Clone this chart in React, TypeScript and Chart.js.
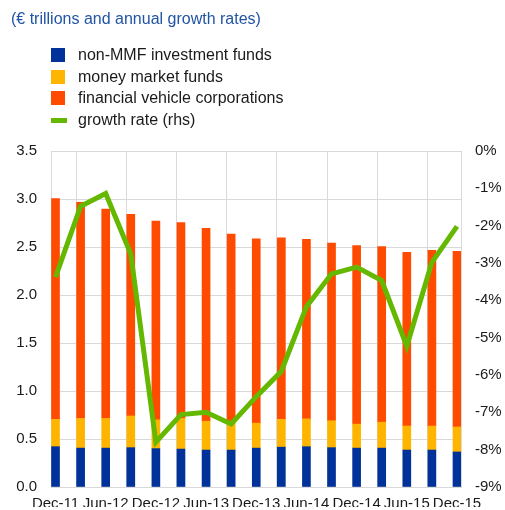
import React, { useEffect, useRef } from "react";
import { Chart, registerables } from "chart.js";
Chart.register(...registerables);

const categories = ["Dec-11","Mar-12","Jun-12","Sep-12","Dec-12","Mar-13","Jun-13","Sep-13","Dec-13","Mar-14","Jun-14","Sep-14","Dec-14","Mar-15","Jun-15","Sep-15","Dec-15"];
const nonMMF = [0.42,0.405,0.405,0.41,0.40,0.395,0.385,0.385,0.405,0.415,0.42,0.41,0.405,0.405,0.385,0.385,0.365];
const mmf = [0.285,0.31,0.31,0.33,0.30,0.32,0.30,0.29,0.26,0.29,0.29,0.28,0.25,0.27,0.25,0.25,0.26];
const fvc = [2.30,2.25,2.18,2.10,2.07,2.04,2.01,1.96,1.92,1.89,1.87,1.85,1.86,1.83,1.81,1.83,1.83];
const growth = [-3.38,-1.48,-1.14,-2.76,-7.80,-7.06,-7.00,-7.31,-6.58,-5.90,-4.17,-3.29,-3.11,-3.47,-5.23,-2.98,-2.02];
const leftTicks = [0,0.5,1,1.5,2,2.5,3,3.5];
const rightTicks = [-9,-8,-7,-6,-5,-4,-3,-2,-1,0];

const BLUE = "#003299";
const YELLOW = "#ffb400";
const ORANGE = "#ff4b00";
const GREEN = "#65b800";
const GRID = "#d9d9d9";
const FONT = "'Liberation Sans', Arial, sans-serif";

const legendItems = [
  { label: "non-MMF investment funds", color: BLUE, line: false },
  { label: "money market funds", color: YELLOW, line: false },
  { label: "financial vehicle corporations", color: ORANGE, line: false },
  { label: "growth rate (rhs)", color: GREEN, line: true },
];

export default function App() {
  const ref = useRef<HTMLCanvasElement | null>(null);
  useEffect(() => {
    document.body.style.margin = "0";
    const canvas = ref.current;
    if (!canvas) return;
    const xMin = -0.18;
    const xMax = 16.16;
    const toXY = (arr: number[]) => arr.map((v, i) => ({ x: i, y: v }));
    const chart = new Chart(canvas, {
      type: "bar",
      data: {
        datasets: [
          {
            type: "line",
            label: "growth rate (rhs)",
            data: toXY(growth),
            borderColor: GREEN,
            backgroundColor: GREEN,
            borderWidth: 5,
            pointRadius: 0,
            tension: 0,
            yAxisID: "y2",
            xAxisID: "x",
            order: 0,
          } as any,
          {
            label: "non-MMF investment funds",
            data: toXY(nonMMF),
            backgroundColor: BLUE,
            barThickness: 8,
            yAxisID: "y",
            xAxisID: "x",
            order: 1,
          },
          {
            label: "money market funds",
            data: toXY(mmf),
            backgroundColor: YELLOW,
            barThickness: 8,
            yAxisID: "y",
            xAxisID: "x",
            order: 1,
          },
          {
            label: "financial vehicle corporations",
            data: toXY(fvc),
            backgroundColor: ORANGE,
            barThickness: 8,
            yAxisID: "y",
            xAxisID: "x",
            order: 1,
          },
        ],
      },
      options: {
        responsive: false,
        animation: false,
        devicePixelRatio: 1,
        layout: { padding: { top: 151, left: 0, right: 0, bottom: 0 } },
        plugins: { legend: { display: false }, tooltip: { enabled: false }, title: { display: false } },
        scales: {
          x: {
            type: "linear",
            position: "bottom",
            weight: 1,
            offset: false,
            stacked: true,
            min: xMin,
            max: xMax,
            grid: { display: false, drawTicks: false },
            border: { display: false },
            afterBuildTicks: (axis: any) => {
              axis.ticks = categories.map((_, i) => i).filter((i) => i % 2 === 0).map((v) => ({ value: v }));
            },
            afterFit: (axis: any) => { axis.height = 20; },
            ticks: {
              autoSkip: false,
              maxRotation: 0,
              padding: 8,
              color: "#1a1a1a",
              font: { family: FONT, size: 15 },
              callback: (v: any) => categories[Math.round(Number(v))] ?? "",
            },
          },
          xg: {
            type: "linear",
            position: "bottom",
            weight: 0,
            offset: false,
            min: xMin,
            max: xMax,
            grid: { display: true, color: GRID, lineWidth: 1, drawTicks: false },
            border: { display: true, color: GRID },
            afterBuildTicks: (axis: any) => {
              const t: any[] = [];
              for (let k = 0; k <= 8; k++) t.push({ value: xMin + 2 * k });
              axis.ticks = t;
            },
            afterFit: (axis: any) => { axis.height = 0; },
            ticks: { display: false },
          },
          y: {
            type: "linear",
            position: "left",
            stacked: true,
            min: 0,
            max: 3.5,
            grid: { color: GRID, lineWidth: 1, drawTicks: false },
            border: { display: true, color: GRID },
            afterBuildTicks: (axis: any) => { axis.ticks = leftTicks.map((v) => ({ value: v })); },
            afterFit: (axis: any) => { axis.width = 51; },
            ticks: {
              padding: 14,
              color: "#1a1a1a",
              font: { family: FONT, size: 15 },
              callback: (v: any) => Number(v).toFixed(1),
            },
          },
          y2: {
            type: "linear",
            position: "right",
            min: -9,
            max: 0,
            grid: { display: false, drawTicks: false },
            border: { display: true, color: GRID },
            afterBuildTicks: (axis: any) => { axis.ticks = rightTicks.map((v) => ({ value: v })); },
            afterFit: (axis: any) => { axis.width = 44; },
            ticks: {
              padding: 14,
              color: "#1a1a1a",
              font: { family: FONT, size: 15 },
              callback: (v: any) => `${Math.round(Number(v))}%`,
            },
          },
        },
      } as any,
    });
    return () => chart.destroy();
  }, []);

  return (
    <div style={{ position: "relative", width: 505, height: 510, fontFamily: FONT }}>
      <canvas ref={ref} width={505} height={510} style={{ position: "absolute", left: 0, top: 0 }} />
      <div style={{ position: "absolute", left: 11, top: 10, fontSize: 16, color: "#2154a4", whiteSpace: "nowrap" }}>
        (€ trillions and annual growth rates)
      </div>
      {legendItems.map((it, i) => (
        <div key={it.label} style={{ position: "absolute", left: 51, top: 46 + i * 21.7, height: 18, display: "flex", alignItems: "center", fontSize: 16, color: "#1a1a1a", whiteSpace: "nowrap" }}>
          {it.line ? (
            <span style={{ display: "inline-block", width: 16, height: 5, background: it.color }} />
          ) : (
            <span style={{ display: "inline-block", width: 14, height: 14, background: it.color, marginRight: 2 }} />
          )}
          <span style={{ marginLeft: 11 }}>{it.label}</span>
        </div>
      ))}
    </div>
  );
}
